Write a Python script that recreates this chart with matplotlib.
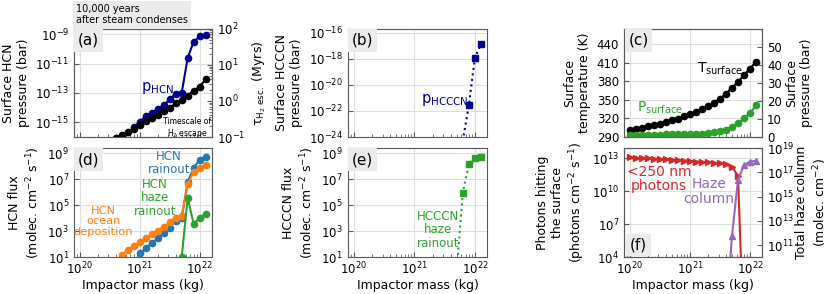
import numpy as np
import matplotlib
matplotlib.use("Agg")
import matplotlib.pyplot as plt

# impactor masses, log10(kg); every series is sampled on this 0.1-dex grid
LOG_MASS = [20.0, 20.1, 20.2, 20.3, 20.4, 20.5, 20.6, 20.7, 20.8, 20.9, 21.0,
            21.1, 21.2, 21.3, 21.4, 21.5, 21.6, 21.7, 21.8, 21.9, 22.0, 22.1]
X_TICKS = [1e20, 1e21, 1e22]

# (a) surface HCN pressure (log10 bar) and H2 escape timescale (log10 Myr)
p_hcn_start = 20.9
p_hcn_log = [-15.34, -14.95, -14.59, -14.35, -14.08, -13.85, -13.44, -13.05,
             -13.01, -10.61, -9.51, -9.16, -9.05]
tau_start = 20.5
tau_h2_log = [-1.10, -1.02, -0.94, -0.85, -0.78, -0.67, -0.57, -0.48, -0.39,
              -0.28, -0.19, -0.07, 0.03, 0.15, 0.28, 0.40, 0.60]

# (d) HCN fluxes (log10 molec cm-2 s-1)
rain_start = 21.0
hcn_rainout_log = [1.31, 1.69, 2.08, 2.46, 2.85, 3.28, 3.79, 4.00, 6.77, 7.89,
                   8.48, 8.74]
ocean_start = 20.7
hcn_ocean_log = [1.18, 1.56, 1.89, 2.20, 2.46, 2.77, 3.02, 3.35, 3.69, 4.05,
                 4.20, 6.62, 7.54, 7.89, 8.05]
haze_start = 21.7
hcn_haze_log = [1.00, 5.58, 3.54, 4.05, 4.31]

# (b) surface HCCCN pressure, (e) HCCCN haze rainout
hcccn_p_start = 21.8
hcccn_p_log = [-24.3, -21.56, -17.91, -16.88]
hcccn_haze_start = 21.7
hcccn_haze_log = [-0.1, 5.97, 8.15, 8.66, 8.74]

# (c) surface temperature (K) and pressure (bar)
t_surface = [302, 303.6, 305.2, 307.3, 308.9, 311.6, 314.3, 317, 319.8, 323.5,
             326.7, 330.5, 334.8, 339.7, 345, 352, 360, 369.7, 379, 390,
             400.7, 411.4]
p_surface = [1.3, 1.3, 1.3, 1.3, 1.3, 1.3, 1.4, 1.4, 1.5, 1.5, 1.6, 1.7, 1.9,
             2.2, 2.6, 3.4, 4.1, 5.6, 7.5, 10.3, 13.1, 17.7]

# (f) UV photons at surface (log10 photons cm-2 s-1), haze column (log10)
photons_log = [13.06, 13.03, 13.00, 12.97, 12.94, 12.91, 12.88, 12.85, 12.82,
               12.78, 12.75, 12.69, 12.66, 12.60, 12.57, 12.51, 12.42, 12.21,
               11.39, -4.0]
haze_col_start = 21.6
haze_col_log = [5.0, 11.75, 16.4, 17.6, 17.9, 17.95]


def masses(start, vals):
    i0 = LOG_MASS.index(start)
    return 10 ** np.array(LOG_MASS[i0:i0 + len(vals)])


def lin(vals):
    return 10 ** np.array(vals)


SPINE = '0.35'
BOX = '0.92'


def style(ax, grid=True):
    ax.set_xscale('log')
    ax.set_xlim(8e19, 1.6e22)
    ax.set_xticks(X_TICKS)
    ax.tick_params(which='both', direction='in', labelsize=8.5, color=SPINE)
    ax.tick_params(which='major', length=3.5)
    ax.tick_params(which='minor', length=2)
    ax.tick_params(axis='x', pad=2.5)
    ax.xaxis.labelpad = 1
    for s in ax.spines.values():
        s.set_color(SPINE)
    if grid:
        ax.grid(True, which='major', color='0.87', lw=0.8)


def panel_label(ax, s, y=0.893):
    ax.text(0.105, y, s, transform=ax.transAxes, ha='center', va='center',
            fontsize=11, zorder=10,
            bbox=dict(boxstyle='square,pad=0.25', fc=BOX, ec='none'))


fig = plt.figure(figsize=(8.31, 2.94), dpi=100)
plt.rcParams['mathtext.default'] = 'regular'

W1, W2, W3 = 0.166, 0.168, 0.1664
TOP_Y, BOT_Y, H = 0.534, 0.125, 0.368

# (a)
ax_a = fig.add_axes([0.089, TOP_Y, W1, H])
style(ax_a)
ax_a.set_yscale('log')
ax_a.plot(masses(p_hcn_start, p_hcn_log), lin(p_hcn_log), 'o-',
          color='darkblue', ms=4.5, lw=1.5)
ax_a.set_ylim(1e-16, 10 ** -8.64)
ax_a.set_yticks([1e-15, 1e-13, 1e-11, 1e-9])
ax_a.set_ylabel('Surface HCN\npressure (bar)', fontsize=9)
ax_a.tick_params(labelbottom=False)
ax_a2 = ax_a.twinx()
style(ax_a2, grid=False)
ax_a2.set_yscale('log')
ax_a2.plot(masses(tau_start, tau_h2_log), lin(tau_h2_log), 'o-', color='k',
           ms=4.5, lw=1.5)
ax_a2.set_ylim(0.1, 100)
ax_a2.set_yticks([0.1, 1, 10, 100])
ax_a2.set_ylabel(r'$\tau_{\rm H_2\ esc.}$ (Myrs)', fontsize=9)
ax_a2.tick_params(labelbottom=False)
ax_a2.text(0.605, 0.452, r'p$_{\rm HCN}$', transform=ax_a.transAxes,
           color='darkblue', fontsize=10.5, ha='center', va='center')
ax_a2.text(0.819, 0.076, 'Timescale of\nH$_2$ escape', transform=ax_a.transAxes,
           fontsize=5.5, ha='center', va='center', linespacing=1.1)
panel_label(ax_a2, '(a)')
fig.text(0.0915, 0.985, '10,000 years\nafter steam condenses', fontsize=7,
         ha='left', va='top', linespacing=1.1,
         bbox=dict(boxstyle='square,pad=0.35', fc=BOX, ec='none'))

# (d)
ax_d = fig.add_axes([0.089, BOT_Y, W1, 0.371])
style(ax_d)
ax_d.set_yscale('log')
ax_d.plot(masses(rain_start, hcn_rainout_log), lin(hcn_rainout_log), 'o-',
          color='tab:blue', ms=4.5, lw=1.5)
ax_d.plot(masses(ocean_start, hcn_ocean_log), lin(hcn_ocean_log), 'o-',
          color='tab:orange', ms=4.5, lw=1.5)
ax_d.plot(masses(haze_start, hcn_haze_log), lin(hcn_haze_log), 'o-',
          color='tab:green', ms=4.5, lw=1.5)
ax_d.set_ylim(10, 10 ** 9.38)
ax_d.set_yticks([1e1, 1e3, 1e5, 1e7, 1e9])
ax_d.set_ylabel('HCN flux\n(molec. cm$^{-2}$ s$^{-1}$)', fontsize=9)
ax_d.set_xlabel('Impactor mass (kg)', fontsize=9)
ax_d.text(0.688, 0.865, 'HCN\nrainout', transform=ax_d.transAxes,
          color='tab:blue', fontsize=8.5, ha='center', va='center',
          linespacing=1.05)
ax_d.text(0.587, 0.544, 'HCN\nhaze\nrainout', transform=ax_d.transAxes,
          color='tab:green', fontsize=8.5, ha='center', va='center',
          linespacing=1.05)
ax_d.text(0.215, 0.328, 'HCN\nocean\ndeposition', transform=ax_d.transAxes,
          color='tab:orange', fontsize=8.2, ha='center', va='center',
          linespacing=1.05)
panel_label(ax_d, '(d)', y=0.894)

# (b)
ax_b = fig.add_axes([0.4184, TOP_Y, W2, H])
style(ax_b)
ax_b.set_yscale('log')
ax_b.plot(masses(hcccn_p_start, hcccn_p_log), lin(hcccn_p_log), 's:',
          color='darkblue', ms=4.5, lw=1.5)
ax_b.set_ylim(1e-24, 10 ** -15.7)
ax_b.set_yticks([1e-24, 1e-22, 1e-20, 1e-18, 1e-16])
ax_b.set_ylabel('Surface HCCCN\npressure (bar)', fontsize=9)
ax_b.tick_params(labelbottom=False)
ax_b.text(0.697, 0.341, r'p$_{\rm HCCCN}$', transform=ax_b.transAxes,
          color='darkblue', fontsize=10.5, ha='center', va='center')
panel_label(ax_b, '(b)')

# (e)
ax_e = fig.add_axes([0.4184, BOT_Y, W2, 0.371])
style(ax_e)
ax_e.set_yscale('log')
ax_e.plot(masses(hcccn_haze_start, hcccn_haze_log), lin(hcccn_haze_log), 's:',
          color='tab:green', ms=4.5, lw=1.5)
ax_e.set_ylim(10, 10 ** 9.38)
ax_e.set_yticks([1e1, 1e3, 1e5, 1e7, 1e9])
ax_e.set_ylabel('HCCCN flux\n(molec. cm$^{-2}$ s$^{-1}$)', fontsize=9)
ax_e.set_xlabel('Impactor mass (kg)', fontsize=9)
ax_e.text(0.647, 0.25, 'HCCCN\nhaze\nrainout', transform=ax_e.transAxes,
          color='tab:green', fontsize=8.5, ha='center', va='center',
          linespacing=1.05)
panel_label(ax_e, '(e)', y=0.894)

# (c)
ax_c = fig.add_axes([0.7509, TOP_Y, W3, H])
style(ax_c)
ax_c.plot(10 ** np.array(LOG_MASS), t_surface, 'o-', color='k', ms=4.5, lw=1.5)
ax_c.set_ylim(290, 465)
ax_c.set_yticks([290, 320, 350, 380, 410, 440])
ax_c.set_ylabel('Surface\ntemperature (K)', fontsize=9)
ax_c.tick_params(labelbottom=False)
ax_c2 = ax_c.twinx()
style(ax_c2, grid=False)
ax_c2.plot(10 ** np.array(LOG_MASS), p_surface, 'o-', color='tab:green',
           ms=4.5, lw=1.5)
ax_c2.set_ylim(0, 60)
ax_c2.set_yticks([0, 10, 20, 30, 40, 50])
ax_c2.set_ylabel('Surface\npressure (bar)', fontsize=9, labelpad=2)
ax_c2.tick_params(labelbottom=False)
ax_c2.text(0.692, 0.631, r'T$_{\rm surface}$', transform=ax_c.transAxes,
           color='k', fontsize=10, ha='center', va='center')
ax_c2.text(0.258, 0.271, r'P$_{\rm surface}$', transform=ax_c.transAxes,
           color='tab:green', fontsize=10, ha='center', va='center')
panel_label(ax_c2, '(c)')

# (f)
ax_f = fig.add_axes([0.7509, BOT_Y, W3, 0.371])
style(ax_f)
ax_f.set_yscale('log')
ax_f.plot(masses(20.0, photons_log), lin(photons_log), '>-', color='tab:red',
          ms=4.5, lw=1.5)
ax_f.set_ylim(1e4, 10 ** 13.9)
ax_f.set_yticks([1e4, 1e7, 1e10, 1e13])
ax_f.set_ylabel('Photons hitting\nthe surface\n(photons cm$^{-2}$ s$^{-1}$)',
                fontsize=9)
ax_f.set_xlabel('Impactor mass (kg)', fontsize=9)
ax_f2 = ax_f.twinx()
style(ax_f2, grid=False)
ax_f2.set_yscale('log')
ax_f2.plot(masses(haze_col_start, haze_col_log), lin(haze_col_log), '^-',
           color='tab:purple', ms=4.5, lw=1.5)
ax_f2.set_ylim(1e10, 1e19)
ax_f2.set_yticks([1e11, 1e13, 1e15, 1e17, 1e19])
ax_f2.set_ylabel('Total haze column\n(molec. cm$^{-2}$)', fontsize=9,
                 labelpad=1)
ax_f2.text(0.253, 0.717, '<250 nm\nphotons', transform=ax_f.transAxes,
           color='tab:red', fontsize=10, ha='center', va='center',
           linespacing=1.05)
ax_f2.text(0.615, 0.602, 'Haze\ncolumn', transform=ax_f.transAxes,
           color='tab:purple', fontsize=10, ha='center', va='center',
           linespacing=1.05)
panel_label(ax_f2, '(f)', y=0.113)

fig.savefig('out.png', dpi=100)
